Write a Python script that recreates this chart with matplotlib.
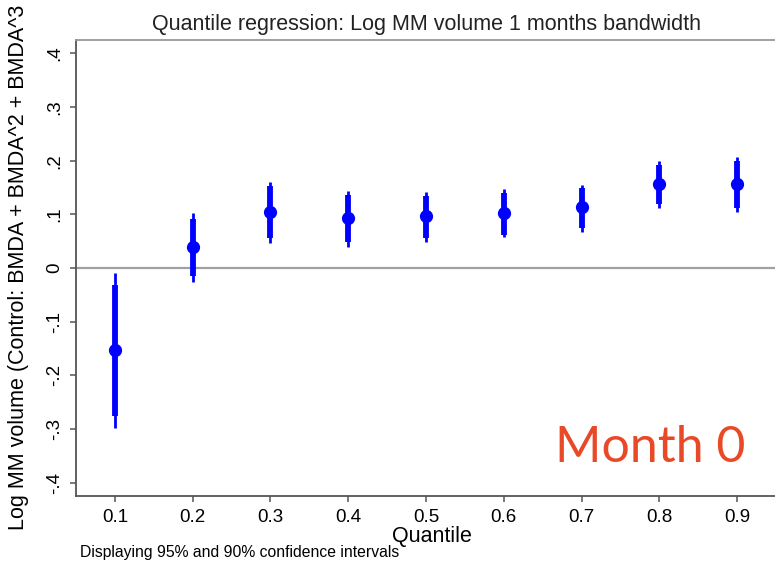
import matplotlib
matplotlib.use("Agg")
import matplotlib.pyplot as plt

# quantile regression estimates with 90% / 95% intervals
quantiles = [0.1, 0.2, 0.3, 0.4, 0.5, 0.6, 0.7, 0.8, 0.9]
coef = [-0.153, 0.040, 0.105, 0.093, 0.097, 0.103, 0.113, 0.157, 0.157]
ci90_lo = [-0.276, -0.015, 0.055, 0.049, 0.055, 0.062, 0.075, 0.119, 0.111]
ci90_hi = [-0.032, 0.091, 0.152, 0.136, 0.134, 0.139, 0.149, 0.192, 0.200]
ci95_lo = [-0.299, -0.026, 0.046, 0.040, 0.049, 0.057, 0.068, 0.111, 0.105]
ci95_hi = [-0.009, 0.103, 0.161, 0.144, 0.142, 0.147, 0.155, 0.200, 0.206]

y_ticks = [-0.4, -0.3, -0.2, -0.1, 0, 0.1, 0.2, 0.3, 0.4]
y_ticklabels = ["-.4", "-.3", "-.2", "-.1", "0", ".1", ".2", ".3", ".4"]

plt.rcParams['font.family'] = ['Liberation Sans', 'DejaVu Sans']

fig = plt.figure(figsize=(7.75, 5.66), dpi=100)
ax = fig.add_axes([76 / 775, 70 / 566, 700 / 775, 456 / 566])

blue = '#0000ff'
ax.axhline(0, color='#a0a0a0', lw=1.6, zorder=1)
ax.vlines(quantiles, ci95_lo, ci95_hi, color=blue, lw=2.0, zorder=2)
ax.vlines(quantiles, ci90_lo, ci90_hi, color=blue, lw=4.2, zorder=3)
ax.plot(quantiles, coef, 'o', color=blue, ms=8.5, zorder=4)

ax.set_xlim(0.05, 0.95)
ax.set_ylim(-0.425, 0.425)
ax.set_xticks(quantiles)
ax.set_xticklabels([f"{q:.1f}" for q in quantiles], fontsize=13.5)
ax.set_yticks(y_ticks)
ax.set_yticklabels(y_ticklabels, fontsize=13.5, rotation=90, va='center')

for side in ['left', 'bottom', 'top', 'right']:
    ax.spines[side].set_color('#555555')
    ax.spines[side].set_linewidth(1.3)
ax.spines['top'].set_color('#999999')
ax.tick_params(axis='both', direction='out', length=4.5, width=1.1, color='#555555', pad=5)

ax.set_title("Quantile regression: Log MM volume 1 months bandwidth", fontsize=15.5, pad=7, color='#222222')
ax.set_xlabel("Quantile", fontsize=15.5, va='top')
ax.xaxis.set_label_coords(0.508, -30 / 456)

# y-axis title runs up past the top edge of the figure
fig.text(19 / 775, 1 - 530 / 566, "Log MM volume (Control: BMDA + BMDA^2 + BMDA^3",
         fontsize=15.5, rotation=90, ha='center', va='bottom')

fig.text(80 / 775, 1 - 552 / 566, "Displaying 95% and 90% confidence intervals", fontsize=11.3, va='center')
fig.text(650 / 775, 1 - 448 / 566, "Month 0", fontsize=36, color='#e84a27', family=['Lato', 'DejaVu Sans'],
         ha='center', va='center')

fig.savefig("out.png", dpi=100)
